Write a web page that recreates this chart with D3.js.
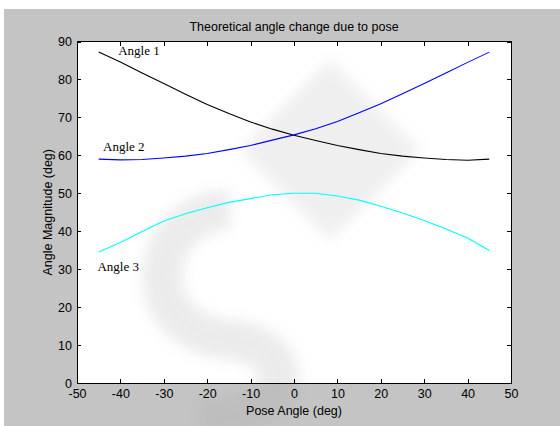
<!DOCTYPE html>
<html>
<head>
<meta charset="utf-8">
<script src="https://cdn.jsdelivr.net/npm/d3@7"></script>
<style>
  body { margin: 0; background: #fff; }
  svg { display: block; }
  text { font-family: "Liberation Sans", Arial, sans-serif; }
</style>
</head>
<body>
<svg width="560" height="426"></svg>
<script>
// pose angle samples (deg)
var pose = [-45, -40, -35, -30, -25, -20, -15, -10, -5, 0, 5, 10, 15, 20, 25, 30, 35, 40, 45];

var angle1 = [87.2, 84.6, 81.7, 78.9, 76.1, 73.4, 71.0, 68.8, 66.9, 65.3, 63.9, 62.6, 61.5, 60.5, 59.8, 59.3, 58.9, 58.7, 59.0];
var angle2 = [59.0, 58.8, 58.9, 59.3, 59.8, 60.5, 61.5, 62.6, 64.0, 65.4, 67.0, 68.9, 71.2, 73.6, 76.2, 78.9, 81.7, 84.5, 87.2];
var angle3 = [34.5, 37.0, 39.9, 42.7, 44.6, 46.2, 47.6, 48.6, 49.6, 50.0, 50.0, 49.3, 48.2, 46.6, 44.8, 42.8, 40.6, 38.2, 34.9];

var xTicks = [-50, -40, -30, -20, -10, 0, 10, 20, 30, 40, 50];
var yTicks = [0, 10, 20, 30, 40, 50, 60, 70, 80, 90];

var series = [
  { name: "Angle 1", values: angle1, color: "#000000", lx: -40.5, ly: 86.5 },
  { name: "Angle 2", values: angle2, color: "#0000ff", lx: -44, ly: 61.2 },
  { name: "Angle 3", values: angle3, color: "#00ffff", lx: -45.3, ly: 29.5 }
];

var svg = d3.select('svg');

var defs = svg.append('defs');
defs.append('filter').attr('id', 'soft')
  .attr('x', '-30%').attr('y', '-30%').attr('width', '160%').attr('height', '160%')
  .append('feGaussianBlur').attr('stdDeviation', 7);

// figure background
svg.append('rect')
  .attr('x', 4).attr('y', 9)
  .attr('width', 556).attr('height', 417)
  .attr('fill', '#c4c4c4');

var pLeft = 77, pRight = 511, pTop = 41.5, pBottom = 383;

var x = d3.scaleLinear().domain([-50, 50]).range([pLeft, pRight]);
var y = d3.scaleLinear().domain([0, 90]).range([pBottom, pTop]);

svg.append('rect')
  .attr('x', pLeft).attr('y', pTop)
  .attr('width', pRight - pLeft).attr('height', pBottom - pTop)
  .attr('fill', '#fff');

// faint watermark shapes
var wm = svg.append('g').attr('opacity', 0.22).attr('filter', 'url(#soft)');
wm.append('path')
  .attr('d', 'M330,60 L420,150 L330,240 L240,150 Z')
  .attr('fill', '#b8b8b8');
wm.append('path')
  .attr('d', 'M230,210 C150,210 130,330 230,340 C300,345 300,420 200,420')
  .attr('fill', 'none').attr('stroke', '#a8a8a8').attr('stroke-width', 40);

// axes
var g = svg.append('g');
var fmt = function (d) { return String(d); };

g.append('g').attr('transform', 'translate(0,' + pBottom + ')')
  .call(d3.axisBottom(x).tickValues(xTicks).tickSize(-4).tickPadding(6).tickFormat(fmt));
g.append('g').attr('transform', 'translate(0,' + pTop + ')')
  .call(d3.axisTop(x).tickValues(xTicks).tickSize(-4).tickFormat(''));
g.append('g').attr('transform', 'translate(' + pLeft + ',0)')
  .call(d3.axisLeft(y).tickValues(yTicks).tickSize(-4).tickPadding(5).tickFormat(fmt));
g.append('g').attr('transform', 'translate(' + pRight + ',0)')
  .call(d3.axisRight(y).tickValues(yTicks).tickSize(-4).tickFormat(''));

g.selectAll('.domain').remove();
g.selectAll('.tick line').attr('stroke', '#000').attr('shape-rendering', 'crispEdges');
g.selectAll('.tick text')
  .attr('fill', '#000')
  .style('font-size', '12.5px')
  .style('font-family', '"Liberation Sans", Arial, sans-serif');

svg.append('rect')
  .attr('x', pLeft).attr('y', pTop)
  .attr('width', pRight - pLeft).attr('height', pBottom - pTop)
  .attr('fill', 'none').attr('stroke', '#000').attr('shape-rendering', 'crispEdges');

// lines
var line = d3.line()
  .x(function (d, i) { return x(pose[i]); })
  .y(function (d) { return y(d); });

svg.append('g')
  .selectAll('path')
  .data(series)
  .enter()
  .append('path')
  .attr('d', function (s) { return line(s.values); })
  .attr('fill', 'none')
  .attr('stroke', function (s) { return s.color; })
  .attr('stroke-width', 1.1);

svg.append('g')
  .selectAll('text')
  .data(series)
  .enter()
  .append('text')
  .attr('x', function (s) { return x(s.lx); })
  .attr('y', function (s) { return y(s.ly); })
  .style('font-family', '"Liberation Serif", "Times New Roman", serif')
  .style('font-size', '13px')
  .attr('fill', '#000')
  .text(function (s) { return s.name; });

// titles
svg.append('text')
  .attr('x', (pLeft + pRight) / 2).attr('y', 31)
  .attr('text-anchor', 'middle')
  .style('font-size', '12.5px')
  .text('Theoretical angle change due to pose');

svg.append('text')
  .attr('x', (pLeft + pRight) / 2).attr('y', 415)
  .attr('text-anchor', 'middle')
  .style('font-size', '12.5px')
  .text('Pose Angle (deg)');

svg.append('text')
  .attr('transform', 'translate(52,' + ((pTop + pBottom) / 2) + ') rotate(-90)')
  .attr('text-anchor', 'middle')
  .style('font-size', '12.5px')
  .text('Angle Magnitude (deg)');
</script>
</body>
</html>
